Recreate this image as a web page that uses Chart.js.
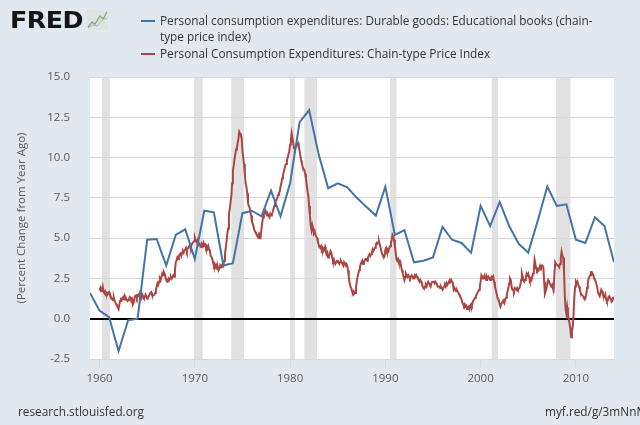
<!DOCTYPE html>
<html>
<head>
<meta charset="utf-8">
<script src="https://cdn.jsdelivr.net/npm/chart.js@4.4.1/dist/chart.umd.min.js"></script>
<style>
  html, body { margin: 0; padding: 0; }
  body {
    width: 640px; height: 425px; overflow: hidden; position: relative;
    background: #e1e9f0; font-family: "Open Sans", sans-serif; color: #333;
  }
  #chart { position: absolute; left: 0; top: 0; }
  #logo {
    position: absolute; left: 10px; top: 9px; line-height: 23px;
    font-family: "DejaVu Sans", sans-serif; font-weight: bold; font-size: 23px;
    letter-spacing: -0.5px; color: #151515;
    transform: scaleX(1.1); transform-origin: left top;
  }
  #icon { position: absolute; left: 87px; top: 10px; }
  #legend { position: absolute; left: 141px; top: 12px; width: 470px; font-size: 11.8px; line-height: 16.4px; }
  .item { position: relative; padding-left: 19px; }
  .swatch { position: absolute; left: 0; top: 8px; width: 14px; height: 2px; }
  .foot { position: absolute; top: 403px; font-size: 11.8px; white-space: nowrap; }
</style>
</head>
<body>
<canvas id="chart" width="640" height="425"></canvas>
<div id="logo">FRED</div>
<svg id="icon" width="21" height="20" viewBox="0 0 21 20"><rect x="0" y="0" width="21" height="20" fill="#dde5df"/><polyline points="1,17 5,12 8,14 13,6 16,9 20,2" fill="none" stroke="#86a67f" stroke-width="1.3"/><polyline points="1,18 6,15 10,16 15,10 20,8" fill="none" stroke="#a2b7c6" stroke-width="1"/></svg>
<div id="legend">
  <div class="item"><span class="swatch" style="background:#4572a7"></span>Personal consumption expenditures: Durable goods: Educational books (chain-type price index)</div>
  <div class="item"><span class="swatch" style="background:#aa4643"></span>Personal Consumption Expenditures: Chain-type Price Index</div>
</div>
<div class="foot" style="left:18px">research.stlouisfed.org</div>
<div class="foot" style="left:545px">myf.red/g/3mNnM</div>
<script>
// annual series, one value per January 1st
const bookYears = [];
for (let y = 1959; y <= 2014; y++) bookYears.push(y);
const bookValues = [
  1.6, 0.5, 0.1, -2.0, -0.1, 0.0, 4.9, 4.95, 3.3, 5.2,
  5.55, 3.7, 6.7, 6.6, 3.3, 3.45, 6.55, 6.7, 6.35, 7.95,
  6.35, 8.4, 12.2, 12.95, 10.2, 8.1, 8.4, 8.15, 7.5, 6.95,
  6.4, 8.2, 5.2, 5.5, 3.5, 3.6, 3.8, 5.7, 4.9, 4.7,
  4.1, 7.0, 5.75, 7.25, 5.75, 4.65, 4.1, 6.1, 8.2, 7.0,
  7.1, 4.9, 4.7, 6.3, 5.75, 3.5
];

// monthly series, Jan 1960 .. Jan 2014
const pceStart = 1960;
const pceValues = [
  1.75, 1.9, 1.7, 1.8, 2.0, 1.7, 1.6, 1.7, 1.55, 1.6, 1.5, 1.6,
  1.65, 1.5, 1.4, 1.3, 1.2, 1.15, 1.3, 1.1, 1.0, 0.9, 0.8, 0.7,
  0.6, 0.9, 1.1, 1.2, 1.15, 1.3, 1.35, 1.2, 1.4, 1.3, 1.2, 1.1,
  1.15, 1.2, 1.35, 1.3, 1.1, 1.2, 0.9, 1.0, 1.3, 1.4, 1.45, 1.3,
  1.45, 1.5, 1.4, 1.6, 1.45, 1.3, 1.5, 1.4, 1.3, 1.35, 1.5, 1.4,
  1.25, 1.3, 1.4, 1.5, 1.6, 1.65, 1.5, 1.4, 1.45, 1.5, 1.6, 1.8,
  2.0, 2.2, 2.1, 2.3, 2.5, 2.4, 2.6, 2.8, 2.7, 2.9, 2.8, 2.6,
  2.4, 2.3, 2.4, 2.5, 2.4, 2.5, 2.6, 2.5, 2.6, 2.7, 2.6, 3.0,
  3.5, 3.6, 3.8, 3.7, 3.9, 4.0, 4.05, 3.9, 4.1, 4.2, 4.1, 4.25,
  4.3, 4.4, 4.2, 4.35, 4.4, 4.5, 4.55, 4.4, 4.6, 4.7, 4.75, 4.8,
  5.05, 4.9, 4.8, 4.7, 4.75, 4.6, 4.65, 4.5, 4.45, 4.6, 4.5, 4.7,
  4.55, 4.6, 4.4, 4.5, 4.35, 4.5, 4.3, 4.2, 3.9, 3.85, 3.7, 3.5,
  3.3, 3.4, 3.2, 3.3, 3.1, 3.2, 3.0, 3.1, 3.3, 3.2, 3.3, 3.4,
  3.3, 3.6, 4.0, 4.4, 4.8, 5.3, 5.6, 6.5, 6.8, 7.2, 7.6, 8.4,
  9.2, 9.5, 9.9, 10.2, 10.5, 10.6, 10.9, 11.2, 11.6, 11.5, 11.4, 11.2,
  10.4, 10.0, 9.6, 9.0, 8.4, 8.2, 7.8, 7.2, 7.0, 6.9, 6.6, 6.4,
  6.0, 5.9, 5.7, 5.5, 5.4, 5.3, 5.2, 5.1, 5.2, 5.0, 5.2, 5.1,
  5.6, 6.0, 6.3, 6.5, 6.6, 6.7, 6.5, 6.4, 6.5, 6.4, 6.3, 6.5,
  6.4, 6.5, 6.6, 6.8, 7.0, 7.2, 7.3, 7.4, 7.5, 7.7, 7.8, 7.9,
  8.2, 8.4, 8.7, 8.9, 9.1, 9.3, 9.5, 9.6, 9.8, 10.0, 10.2, 10.4,
  10.8, 11.1, 11.5, 11.2, 10.9, 10.6, 10.5, 10.6, 10.7, 10.8, 10.9, 10.7,
  10.4, 10.1, 9.8, 9.6, 9.4, 9.3, 9.2, 9.0, 8.7, 8.3, 7.9, 7.6,
  7.0, 6.4, 5.8, 5.5, 5.8, 5.6, 5.3, 5.4, 5.2, 5.1, 5.0, 4.8,
  4.6, 4.5, 4.4, 4.5, 4.3, 4.4, 4.2, 4.3, 4.45, 4.2, 4.0, 4.1,
  3.8, 3.9, 4.0, 4.2, 4.1, 3.8, 3.6, 3.7, 3.5, 3.4, 3.5, 3.6,
  3.6, 3.5, 3.4, 3.5, 3.6, 3.5, 3.4, 3.3, 3.5, 3.4, 3.3, 3.4,
  3.3, 3.0, 2.6, 2.2, 2.0, 1.9, 1.7, 1.6, 1.7, 1.55, 1.6, 1.9,
  2.3, 2.6, 2.8, 3.0, 3.2, 3.4, 3.5, 3.6, 3.4, 3.5, 3.6, 3.7,
  3.7, 3.6, 3.8, 3.9, 4.0, 3.9, 4.0, 4.1, 4.3, 4.2, 4.3, 4.4,
  4.6, 4.7, 4.65, 4.75, 4.8, 4.6, 4.4, 4.2, 4.0, 3.9, 3.8, 3.9,
  4.3, 4.4, 4.2, 4.3, 4.2, 4.4, 4.5, 4.7, 4.9, 5.2, 5.1, 4.9,
  4.5, 4.1, 3.7, 3.6, 3.7, 3.5, 3.4, 3.5, 3.2, 3.0, 2.8, 2.6,
  2.4, 2.6, 2.8, 2.7, 2.6, 2.7, 2.6, 2.5, 2.6, 2.7, 2.6, 2.5,
  2.6, 2.7, 2.6, 2.7, 2.6, 2.5, 2.4, 2.3, 2.4, 2.3, 2.2, 2.0,
  1.9, 1.85, 2.0, 2.1, 2.0, 2.2, 2.3, 2.2, 2.1, 2.0, 2.2, 2.3,
  2.3, 2.3, 2.2, 2.3, 2.2, 2.1, 2.0, 2.0, 2.0, 1.9, 2.0, 1.9,
  1.8, 1.9, 2.0, 2.1, 2.0, 2.2, 2.1, 2.2, 2.3, 2.4, 2.3, 2.4,
  2.3, 2.2, 1.8, 1.9, 1.8, 1.7, 1.8, 1.7, 1.6, 1.5, 1.4, 1.3,
  1.2, 1.0, 0.9, 0.8, 0.9, 0.75, 0.8, 0.6, 0.7, 0.75, 0.6, 0.8,
  0.9, 0.8, 1.0, 1.15, 1.2, 1.3, 1.4, 1.5, 1.6, 1.7, 1.8, 2.0,
  2.3, 2.7, 2.6, 2.5, 2.6, 2.7, 2.5, 2.4, 2.6, 2.5, 2.6, 2.5,
  2.4, 2.5, 2.6, 2.5, 2.6, 2.3, 2.0, 1.8, 1.6, 1.35, 1.2, 1.1,
  0.9, 0.75, 0.9, 1.0, 1.1, 1.15, 1.0, 1.2, 1.3, 1.5, 1.7, 1.9,
  2.2, 2.5, 2.4, 2.0, 1.8, 1.8, 1.7, 1.9, 1.85, 1.8, 1.9, 1.8,
  1.85, 1.9, 2.1, 2.4, 2.8, 2.6, 2.4, 2.3, 2.4, 2.6, 2.8, 2.7,
  2.8, 2.6, 2.4, 2.5, 2.4, 2.6, 2.8, 3.0, 3.65, 3.4, 3.1, 3.0,
  3.1, 3.0, 3.1, 3.3, 3.2, 3.3, 3.3, 3.2, 2.3, 1.55, 1.7, 1.9,
  2.2, 2.4, 2.3, 2.2, 2.1, 2.0, 2.1, 1.9, 1.8, 2.8, 3.5, 3.4,
  3.4, 3.3, 3.3, 3.2, 3.4, 3.8, 4.15, 3.9, 3.8, 3.0, 1.5, 0.6,
  0.3, 0.7, 0.2, 0.0, -0.3, -0.6, -1.15, -0.8, -0.5, 0.2, 1.3, 2.0,
  2.3, 2.2, 2.3, 2.1, 2.0, 1.8, 1.6, 1.5, 1.45, 1.4, 1.3, 1.3,
  1.25, 1.5, 1.9, 2.2, 2.5, 2.6, 2.7, 2.9, 2.9, 2.8, 2.7, 2.5,
  2.4, 2.3, 2.1, 1.9, 1.6, 1.5, 1.4, 1.6, 1.8, 1.7, 1.5, 1.4,
  1.35, 1.5, 1.2, 1.05, 1.1, 1.35, 1.4, 1.3, 1.2, 1.05, 1.1, 1.3,
  1.35
];

// recessions (decimal years)
const recessionStart = [1960.25, 1969.92, 1973.83, 1980.0, 1981.5, 1990.5, 2001.17, 2007.92];
const recessionEnd   = [1961.08, 1970.83, 1975.17, 1980.5, 1982.83, 1991.17, 2001.83, 2009.42];

const xTicks = [1960, 1970, 1980, 1990, 2000, 2010];

const recessionBands = {
  id: 'recessionBands',
  beforeDraw(chart) {
    const { ctx, chartArea: a, scales: { x } } = chart;
    ctx.save();
    ctx.fillStyle = '#ffffff';
    ctx.fillRect(a.left, a.top, a.right - a.left, a.bottom - a.top);
    ctx.fillStyle = '#e1e1e1';
    recessionStart.forEach((s, i) => {
      const x0 = x.getPixelForValue(s);
      const x1 = x.getPixelForValue(recessionEnd[i]);
      ctx.fillRect(x0, a.top, x1 - x0, a.bottom - a.top);
    });
    ctx.restore();
  }
};

const tickFont = { family: 'Open Sans', size: 11.5 };

new Chart(document.getElementById('chart'), {
  type: 'line',
  data: {
    datasets: [{
      label: 'Educational books',
      data: bookYears.map((y, i) => ({ x: y, y: bookValues[i] })),
      borderColor: '#4572a7',
      borderWidth: 2,
      pointRadius: 0,
      tension: 0
    }, {
      label: 'PCE price index',
      data: pceValues.map((v, i) => ({ x: pceStart + i / 12, y: v })),
      borderColor: '#aa4643',
      borderWidth: 2,
      pointRadius: 0,
      tension: 0
    }]
  },
  options: {
    responsive: false,
    animation: false,
    devicePixelRatio: 1,
    layout: { padding: { top: 77, right: 26, left: 0, bottom: 0 } },
    plugins: { legend: { display: false }, tooltip: { enabled: false } },
    scales: {
      x: {
        type: 'linear',
        min: 1959,
        max: 2014,
        afterBuildTicks: (s) => { s.ticks = xTicks.map(v => ({ value: v })); },
        afterFit: (s) => { s.height = 66; },
        border: { display: true, color: '#d9d9d9' },
        grid: { drawOnChartArea: false, drawTicks: true, tickLength: 8, color: '#d9d9d9' },
        ticks: { color: '#595959', font: tickFont, padding: 5, maxRotation: 0, callback: v => String(v) }
      },
      y: {
        min: -2.5,
        max: 15,
        afterFit: (s) => { s.width = 90; },
        border: { display: false },
        grid: {
          drawTicks: false,
          color: ctx => ctx.tick && ctx.tick.value === 0 ? '#000000' : '#d9d9d9',
          lineWidth: ctx => ctx.tick && ctx.tick.value === 0 ? 2 : 1
        },
        ticks: { stepSize: 2.5, color: '#595959', font: tickFont, padding: 20, callback: v => v.toFixed(1) },
        title: {
          display: true,
          text: '(Percent Change from Year Ago)',
          color: '#595959',
          font: { family: 'Open Sans', size: 11.5 },
          padding: { top: 15, bottom: 0 }
        }
      }
    }
  },
  plugins: [recessionBands]
});
</script>
</body>
</html>
